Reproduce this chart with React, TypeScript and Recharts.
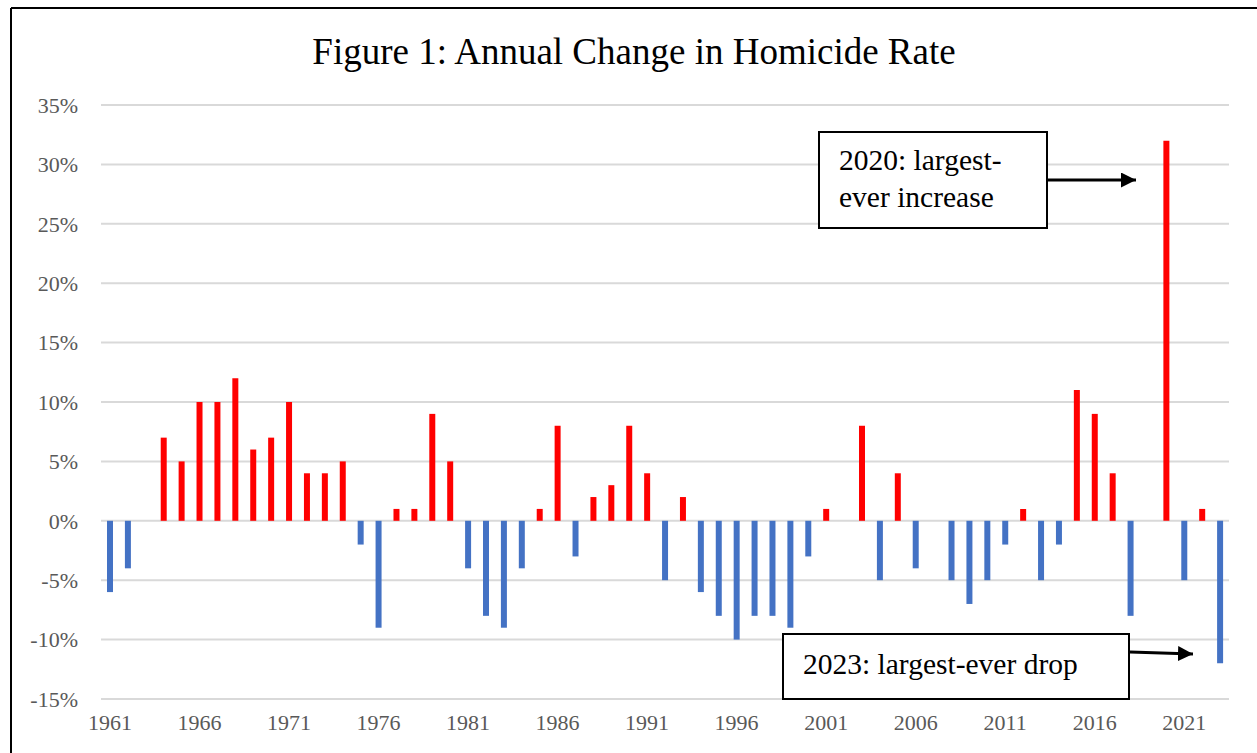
import { BarChart, Bar, XAxis, YAxis, CartesianGrid, Cell } from 'recharts';

const years = Array.from({ length: 63 }, (_, i) => String(1961 + i));

// annual % change in homicide rate
const changes = [
  -6, -4, 0, 7, 5, 10, 10, 12, 6, 7, // 1961-1970
  10, 4, 4, 5, -2, -9, 1, 1, 9, 5, // 1971-1980
  -4, -8, -9, -4, 1, 8, -3, 2, 3, 8, // 1981-1990
  4, -5, 2, -6, -8, -10, -8, -8, -9, -3, // 1991-2000
  1, 0, 8, -5, 4, -4, 0, -5, -7, -5, // 2001-2010
  -2, 1, -5, -2, 11, 9, 4, -8, 0, 32, // 2011-2020
  -5, 1, -12, // 2021-2023
];

const yTicks = [-15, -10, -5, 0, 5, 10, 15, 20, 25, 30, 35];

const title = 'Figure 1: Annual Change in Homicide Rate';
const noteUp = ['2020: largest-', 'ever increase'];
const noteDown = '2023: largest-ever drop';

const UP = '#FF0000';
const DOWN = '#4472C4';
const FONT = '"Liberation Serif", "Times New Roman", serif';

const data = years.map((year, i) => ({ year, change: changes[i] }));

export default function App() {
  return (
    <div style={{ position: 'absolute', left: 0, top: 0, width: 1257, height: 753, background: '#fff', fontFamily: FONT }}>
      <BarChart width={1257} height={753} data={data} margin={{ top: 105, right: 28, bottom: 24, left: 0 }}>
        <CartesianGrid vertical={false} stroke="#d9d9d9" strokeWidth={2} />
        <XAxis
          dataKey="year"
          interval={4}
          axisLine={false}
          tickLine={false}
          tickMargin={9}
          tick={{ fill: '#595959', fontSize: 22, fontFamily: FONT }}
        />
        <YAxis
          width={101}
          domain={[-15, 35]}
          ticks={yTicks}
          axisLine={false}
          tickLine={false}
          tickMargin={17}
          tickFormatter={(v: number) => `${v}%`}
          tick={{ fill: '#595959', fontSize: 22, fontFamily: FONT }}
        />
        <Bar dataKey="change" barSize={6} isAnimationActive={false}>
          {data.map((d) => (
            <Cell key={d.year} fill={d.change >= 0 ? UP : DOWN} />
          ))}
        </Bar>
      </BarChart>
      <svg width={1257} height={753} style={{ position: 'absolute', left: 0, top: 0, pointerEvents: 'none' }}>
        <defs>
          <marker id="arrow" viewBox="0 0 10 10" refX="10" refY="5" markerWidth="5" markerHeight="5" orient="auto" markerUnits="strokeWidth">
            <path d="M0,0 L10,5 L0,10 z" fill="#000" />
          </marker>
        </defs>
        {/* chart frame, only left and top edges show */}
        <line x1={11} y1={8} x2={1257} y2={8} stroke="#000" strokeWidth={2} />
        <line x1={11} y1={8} x2={11} y2={753} stroke="#000" strokeWidth={2} />
        <text x={634} y={64} textAnchor="middle" fontSize={37} fontFamily={FONT} fill="#000">
          {title}
        </text>

        <rect x={819} y={132} width={228} height={96} fill="#fff" stroke="#000" strokeWidth={2} />
        <text x={839} y={170} fontSize={29.5} fontFamily={FONT} fill="#000">{noteUp[0]}</text>
        <text x={839} y={207} fontSize={29.5} fontFamily={FONT} fill="#000">{noteUp[1]}</text>
        <line x1={1048} y1={180} x2={1136} y2={180} stroke="#000" strokeWidth={3} markerEnd="url(#arrow)" />

        <rect x={783} y={634} width={346} height={65} fill="#fff" stroke="#000" strokeWidth={2} />
        <text x={803} y={674} fontSize={29.5} fontFamily={FONT} fill="#000">{noteDown}</text>
        <line x1={1130} y1={652} x2={1193} y2={654} stroke="#000" strokeWidth={3} markerEnd="url(#arrow)" />
      </svg>
    </div>
  );
}
